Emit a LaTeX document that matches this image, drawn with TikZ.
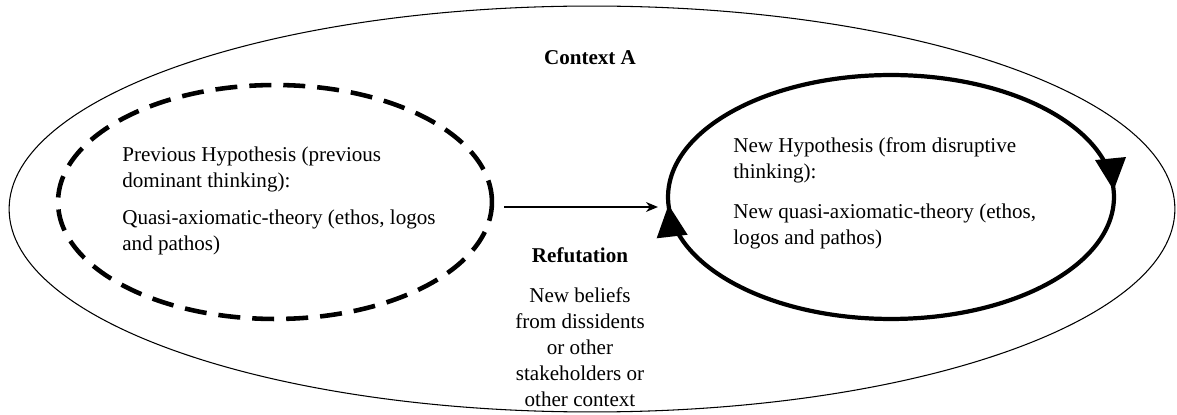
\documentclass[tikz,border=0pt]{standalone}
\usepackage{fontspec}
\setmainfont{Liberation Serif}
\usetikzlibrary{positioning}
\usetikzlibrary{calc}
\usetikzlibrary{shapes.geometric,arrows.meta,decorations.markings}

\begin{document}
\begin{tikzpicture}[x=0.02cm, y=-0.02cm,
    every node/.style={font=\fontsize{12}{14.8}\selectfont},
    boldlabel/.style={font=\fontsize{12}{14.8}\selectfont\bfseries, inner sep=0pt},
    context/.style={draw, ellipse, line width=0.6pt, minimum width=23.32cm, minimum height=8.12cm, inner sep=0pt},
    oldhyp/.style={draw, ellipse, line width=2.6pt, dash pattern=on 0.44cm off 0.24cm,
      minimum width=8.68cm, minimum height=4.68cm, inner sep=0pt},
    newhyp/.style={draw, ellipse, line width=2.4pt, minimum width=8.92cm, minimum height=4.88cm, inner sep=0pt,
      postaction={decorate, decoration={markings,
        mark=at position 0.006 with {\arrowreversed{Triangle[length=6.4mm,width=6mm]}},
        mark=at position 0.507 with {\arrowreversed{Triangle[length=6.4mm,width=6mm]}}}}},
    hyptext/.style={align=left, inner sep=0pt, anchor=north west},
    ]
    \useasboundingbox (0,0) rectangle (1177,415);

    \node[context] (ctx) at (592,209) {};
    \node[oldhyp] (prev) at (275,202) {};
    \node[newhyp] (new) at (891,197) {};

    \node[boldlabel, anchor=base] (ctxlabel) at (590,65) {Context A};

    \node[hyptext] (prevtxt) at (122,147) {Previous Hypothesis (previous\\dominant thinking):\\[0.22cm]Quasi-axiomatic-theory (ethos, logos\\and pathos)};
    \node[hyptext] (newtxt) at (733,137) {New Hypothesis (from disruptive\\thinking):\\[0.28cm]New quasi-axiomatic-theory (ethos,\\logos and pathos)};

    \draw[-{Stealth[length=2.4mm,width=2mm]}, line width=0.6pt] ($(prev.east)+(10,5)$) -- ($(prev.east -| new.west)+(-8,5)$);

    \node[boldlabel, anchor=base] (refut) at (580,263) {Refutation};
    \node[align=center, inner sep=0pt, anchor=north] (beliefs) at (580,287) {New beliefs\\from dissidents\\or other\\stakeholders or\\other context};
\end{tikzpicture}
\end{document}
